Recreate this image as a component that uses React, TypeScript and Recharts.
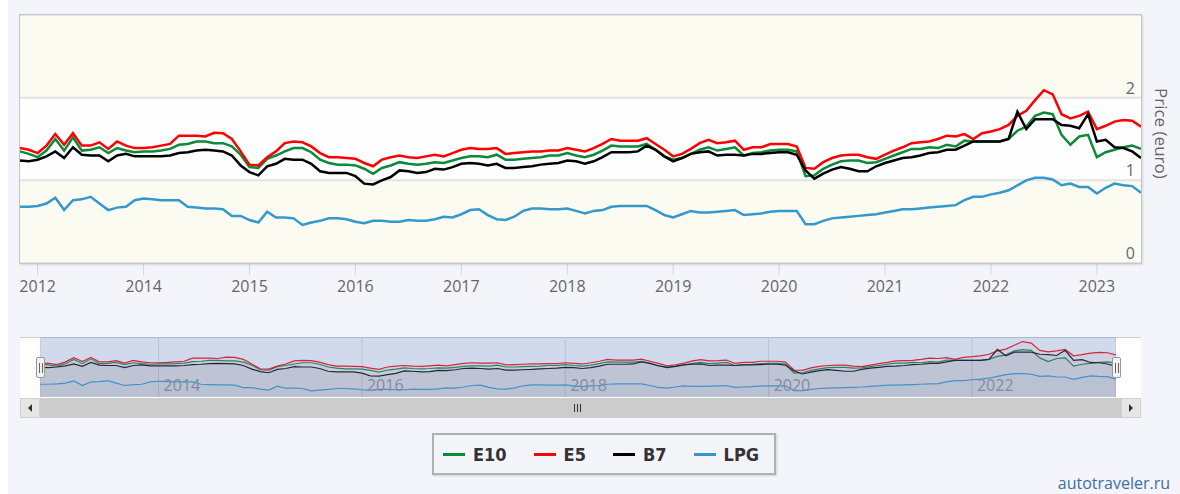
import React from "react";
import { LineChart, Line, ComposedChart, Area, XAxis, YAxis, CartesianGrid } from "recharts";

// ordinal axis: sparse points before 2014, monthly afterwards
const earlyDates = [
  "2011-09", "2011-11", "2012-01", "2012-03", "2012-05", "2012-07", "2012-09",
  "2012-11", "2013-01", "2013-03", "2013-05", "2013-07", "2013-09", "2013-11",
];
const monthlyYears = ["2014", "2015", "2016", "2017", "2018", "2019", "2020", "2021", "2022", "2023"];
const monthNames = ["01", "02", "03", "04", "05", "06", "07", "08", "09", "10", "11", "12"];
const lastDate = "2023-06";

const dates: string[] = [...earlyDates];
monthlyYears.forEach((y) =>
  monthNames.forEach((m) => {
    const d = `${y}-${m}`;
    if (d <= lastDate) dates.push(d);
  })
);

const e10 = [
  1.35, 1.32, 1.28, 1.36, 1.5, 1.36, 1.52, 1.36, 1.37, 1.4, 1.33, 1.39, 1.36, 1.34,
  1.35, 1.35, 1.36, 1.38, 1.43, 1.44, 1.47, 1.47, 1.45, 1.45, 1.41, 1.31,
  1.16, 1.15, 1.26, 1.3, 1.35, 1.39, 1.39, 1.34, 1.25, 1.21, 1.19, 1.19,
  1.18, 1.14, 1.08, 1.15, 1.18, 1.22, 1.2, 1.19, 1.2, 1.22, 1.21, 1.24,
  1.27, 1.29, 1.29, 1.28, 1.31, 1.25, 1.25, 1.26, 1.27, 1.28, 1.3, 1.3,
  1.33, 1.3, 1.28, 1.31, 1.36, 1.42, 1.41, 1.41, 1.41, 1.44, 1.37, 1.29,
  1.25, 1.27, 1.32, 1.37, 1.4, 1.36, 1.38, 1.4, 1.3, 1.33, 1.34, 1.36,
  1.37, 1.37, 1.35, 1.05, 1.06, 1.14, 1.19, 1.23, 1.24, 1.24, 1.21, 1.22,
  1.26, 1.3, 1.34, 1.38, 1.38, 1.4, 1.39, 1.43, 1.41, 1.48, 1.47, 1.47,
  1.47, 1.47, 1.5, 1.6, 1.65, 1.78, 1.82, 1.8, 1.55, 1.43, 1.53, 1.55,
  1.28, 1.34, 1.37, 1.4, 1.42, 1.38,
];
const e5 = [
  1.39, 1.37, 1.33, 1.42, 1.56, 1.43, 1.57, 1.42, 1.42, 1.46, 1.38, 1.47, 1.42, 1.39,
  1.39, 1.4, 1.42, 1.44, 1.54, 1.54, 1.54, 1.53, 1.575, 1.57, 1.5, 1.35,
  1.19, 1.18, 1.28, 1.35, 1.45, 1.47, 1.46, 1.41, 1.33, 1.28, 1.28, 1.27,
  1.26, 1.21, 1.17, 1.25, 1.28, 1.3, 1.28, 1.27, 1.29, 1.31, 1.29, 1.33,
  1.37, 1.39, 1.38, 1.38, 1.39, 1.32, 1.33, 1.34, 1.35, 1.35, 1.36, 1.36,
  1.39, 1.37, 1.35, 1.39, 1.44, 1.5, 1.48, 1.48, 1.48, 1.51, 1.44, 1.37,
  1.29, 1.32, 1.38, 1.45, 1.49, 1.45, 1.46, 1.48, 1.37, 1.4, 1.4, 1.44,
  1.44, 1.44, 1.41, 1.15, 1.14, 1.22, 1.27, 1.3, 1.31, 1.31, 1.28, 1.26,
  1.31, 1.36, 1.4, 1.45, 1.46, 1.47, 1.5, 1.54, 1.53, 1.56, 1.5, 1.57,
  1.59, 1.62, 1.67, 1.78, 1.84, 1.97, 2.09, 2.04, 1.8, 1.75, 1.78, 1.83,
  1.62, 1.66, 1.71, 1.73, 1.72, 1.65,
];
const b7 = [
  1.24, 1.23, 1.25, 1.29, 1.35, 1.27, 1.4, 1.31, 1.3, 1.3, 1.23, 1.3, 1.32, 1.29,
  1.29, 1.29, 1.29, 1.3, 1.33, 1.34, 1.36, 1.37, 1.36, 1.35, 1.3, 1.18,
  1.1, 1.06, 1.17, 1.2, 1.26, 1.25, 1.25, 1.2, 1.11, 1.09, 1.09, 1.09,
  1.05, 0.96, 0.95, 1.0, 1.04, 1.12, 1.11, 1.09, 1.1, 1.14, 1.13, 1.16,
  1.2, 1.21, 1.2, 1.18, 1.2, 1.15, 1.15, 1.16, 1.17, 1.19, 1.2, 1.21,
  1.24, 1.23, 1.2, 1.23, 1.28, 1.34, 1.34, 1.34, 1.35, 1.42, 1.37, 1.29,
  1.23, 1.27, 1.32, 1.34, 1.35, 1.3, 1.31, 1.31, 1.3, 1.32, 1.32, 1.33,
  1.34, 1.34, 1.31, 1.12, 1.02, 1.08, 1.13, 1.16, 1.14, 1.11, 1.11, 1.17,
  1.21, 1.24, 1.27, 1.28, 1.3, 1.33, 1.34, 1.37, 1.37, 1.42, 1.47, 1.47,
  1.47, 1.47, 1.5, 1.83, 1.62, 1.74, 1.74, 1.74, 1.67, 1.66, 1.63, 1.8,
  1.47, 1.49, 1.4, 1.39, 1.35, 1.27,
];
const lpg = [
  0.68, 0.68, 0.69, 0.72, 0.79, 0.64, 0.76, 0.77, 0.8, 0.72, 0.64, 0.67, 0.68, 0.76,
  0.78, 0.77, 0.76, 0.76, 0.76, 0.68, 0.67, 0.66, 0.66, 0.65, 0.57, 0.57,
  0.52, 0.49, 0.62, 0.55, 0.55, 0.54, 0.46, 0.49, 0.51, 0.54, 0.54, 0.53,
  0.5, 0.48, 0.51, 0.51, 0.5, 0.5, 0.52, 0.51, 0.51, 0.53, 0.56, 0.55,
  0.59, 0.64, 0.65, 0.58, 0.53, 0.52, 0.56, 0.63, 0.66, 0.66, 0.65, 0.65,
  0.66, 0.63, 0.6, 0.63, 0.64, 0.68, 0.69, 0.69, 0.69, 0.69, 0.64, 0.58,
  0.55, 0.59, 0.63, 0.61, 0.61, 0.62, 0.63, 0.64, 0.58, 0.59, 0.6, 0.62,
  0.63, 0.63, 0.63, 0.47, 0.47, 0.51, 0.54, 0.55, 0.56, 0.57, 0.58, 0.59,
  0.61, 0.63, 0.65, 0.65, 0.66, 0.67, 0.68, 0.69, 0.7, 0.76, 0.8, 0.8,
  0.83, 0.85, 0.88, 0.94, 1.0, 1.03, 1.03, 1.01, 0.94, 0.96, 0.92, 0.92,
  0.84, 0.91, 0.96, 0.94, 0.93, 0.85,
];

const seriesNames = ["E10", "E5", "B7", "LPG"];
const seriesColors = ["#0b8a3a", "#ff0000", "#000000", "#3399cc"];

const axisYears = ["2012", "2014", "2015", "2016", "2017", "2018", "2019", "2020", "2021", "2022", "2023"];
const navigatorYears = ["2014", "2016", "2018", "2020", "2022"];
const priceTicks = [0, 1, 2, 3];

const rows = dates.map((d, i) => ({
  i,
  date: d,
  E10: e10[i],
  E5: e5[i],
  B7: b7[i],
  LPG: lpg[i],
}));

const mainTicks = axisYears.map((y) => dates.indexOf(`${y}-01`));
const navTicks = navigatorYears.map((y) => dates.indexOf(`${y}-01`));
const yearOf = (v: number) => (dates[v] || "").slice(0, 4);

const FONT = '"Open Sans", "DejaVu Sans", sans-serif';
const NARROW = '"Liberation Sans Narrow", "DejaVu Sans Condensed", "Open Sans", sans-serif';
const PAGE_BG = "#f4f4fb";
const NAV_W = 1076;
const NAV_H = 60;

const PriceTick = (props: any) => {
  const { x, y, payload } = props;
  if (payload.value === 3) return null;
  return (
    <text x={x} y={y - 4} textAnchor="end" fill="#666" fontSize={16}>
      {payload.value}
    </text>
  );
};

const NavTick = (props: any) => {
  const { x, payload } = props;
  return (
    <text x={x + 5} y={NAV_H - 6} fill="#8f8f8f" fontSize={16}>
      {yearOf(payload.value)}
    </text>
  );
};

const Grip = () => (
  <div style={{ display: "flex", gap: 2 }}>
    {[0, 1, 2].map((k) => (
      <div key={k} style={{ width: 1, height: 8, background: "#333" }} />
    ))}
  </div>
);

const Handle = ({ left }: { left: number }) => (
  <div
    style={{
      position: "absolute",
      left,
      top: 357,
      width: 7,
      height: 19,
      background: "#f2f2f2",
      border: "1px solid #999",
      borderRadius: 2,
      display: "flex",
      justifyContent: "center",
      alignItems: "center",
      gap: 2,
    }}
  >
    <div style={{ width: 1, height: 10, background: "#666" }} />
    <div style={{ width: 1, height: 10, background: "#666" }} />
  </div>
);

export default function App() {
  return (
    <div
      style={{
        position: "absolute",
        left: 0,
        top: 0,
        width: 1180,
        height: 494,
        background: PAGE_BG,
        fontFamily: FONT,
        overflow: "hidden",
      }}
    >
      <div style={{ position: "absolute", left: 0, top: 0, width: 8, height: 494, background: "#fff" }} />

      {/* main price chart */}
      <div style={{ position: "absolute", left: 0, top: 0 }}>
        <LineChart width={1180} height={300} data={rows} margin={{ top: 15, right: 39, bottom: 0, left: 20 }}>
          <CartesianGrid
            vertical={false}
            stroke="#e3e3e3"
            strokeWidth={2}
            horizontalFill={["#fbfbf2", "#fefefe", "#fbfbf2"]}
            fillOpacity={1}
          />
          <XAxis
            dataKey="i"
            type="number"
            domain={[0, rows.length - 1]}
            ticks={mainTicks}
            interval={0}
            tickFormatter={yearOf}
            height={37}
            tickSize={12}
            tickMargin={6}
            axisLine={false}
            tickLine={{ stroke: "#ccd6eb" }}
            tick={{ fill: "#666", fontSize: 16 }}
          />
          <YAxis
            orientation="right"
            mirror
            domain={[0, 3]}
            ticks={priceTicks}
            interval={0}
            tickSize={0}
            tickMargin={6}
            axisLine={false}
            tickLine={false}
            tick={<PriceTick />}
          />
          {seriesNames.map((name, k) => (
            <Line
              key={name}
              type="linear"
              dataKey={name}
              stroke={seriesColors[k]}
              strokeWidth={2.5}
              dot={false}
              isAnimationActive={false}
            />
          ))}
        </LineChart>
      </div>

      {/* plot frame */}
      <div
        style={{
          position: "absolute",
          left: 19,
          top: 14,
          width: 1121,
          height: 248,
          border: "1px solid #c6c6c6",
          boxShadow: "1px 1px 2px rgba(0,0,0,0.12)",
          pointerEvents: "none",
        }}
      />

      <div
        style={{
          position: "absolute",
          left: 1150,
          top: 88,
          writingMode: "vertical-rl",
          fontSize: 17,
          color: "#666",
          whiteSpace: "nowrap",
        }}
      >
        Price (euro)
      </div>

      {/* navigator */}
      <div
        style={{
          position: "absolute",
          left: 20,
          top: 337,
          width: 1121,
          height: NAV_H,
          background: "#fff",
          borderTop: "1px solid #cfcfcf",
        }}
      />
      <div style={{ position: "absolute", left: 40, top: 337 }}>
        <ComposedChart width={NAV_W} height={NAV_H} data={rows} margin={{ top: 0, right: 0, bottom: 0, left: 0 }}>
          <CartesianGrid horizontal={false} stroke="#dedede" />
          <XAxis
            dataKey="i"
            type="number"
            domain={[0, rows.length - 1]}
            ticks={navTicks}
            interval={0}
            mirror
            height={20}
            axisLine={false}
            tickLine={false}
            tick={<NavTick />}
          />
          <YAxis hide domain={[0.26, 2.24]} />
          {seriesNames.map((name, k) => (
            <Area
              key={name}
              type="linear"
              dataKey={name}
              stroke={seriesColors[k]}
              strokeWidth={1.2}
              fill={seriesColors[k]}
              fillOpacity={0.05}
              dot={false}
              isAnimationActive={false}
            />
          ))}
        </ComposedChart>
      </div>
      <div
        style={{
          position: "absolute",
          left: 40,
          top: 337,
          width: NAV_W,
          height: NAV_H,
          background: "rgba(102,133,194,0.3)",
          pointerEvents: "none",
        }}
      />
      <Handle left={36} />
      <Handle left={1112} />

      {/* scrollbar */}
      <div style={{ position: "absolute", left: 40, top: 398, width: 1081, height: 20, background: "#cccccc" }} />
      <div
        style={{
          position: "absolute",
          left: 574,
          top: 398,
          height: 20,
          display: "flex",
          alignItems: "center",
        }}
      >
        <Grip />
      </div>
      {[20, 1121].map((left, k) => (
        <div
          key={left}
          style={{
            position: "absolute",
            left,
            top: 398,
            width: 20,
            height: 20,
            boxSizing: "border-box",
            background: "#e6e6e6",
            border: "1px solid #d0d0d0",
            display: "flex",
            alignItems: "center",
            justifyContent: "center",
          }}
        >
          <div
            style={{
              width: 0,
              height: 0,
              borderTop: "4px solid transparent",
              borderBottom: "4px solid transparent",
              borderRight: k === 0 ? "4px solid #333" : undefined,
              borderLeft: k === 1 ? "4px solid #333" : undefined,
            }}
          />
        </div>
      ))}

      {/* legend */}
      <div
        style={{
          position: "absolute",
          left: 432,
          top: 433,
          width: 331,
          height: 38,
          border: "2px solid #b0b0b0",
          boxShadow: "1px 1px 2px rgba(0,0,0,0.15)",
          display: "flex",
          alignItems: "center",
          paddingLeft: 9,
          gap: 27,
          fontFamily: NARROW,
          fontWeight: 700,
          fontSize: 18,
          color: "#333",
        }}
      >
        {seriesNames.map((name, k) => (
          <div key={name} style={{ display: "flex", alignItems: "center", gap: 8 }}>
            <div style={{ width: 22, height: 3, background: seriesColors[k] }} />
            <span>{name}</span>
          </div>
        ))}
      </div>

      <div
        style={{
          position: "absolute",
          right: 10,
          top: 473,
          fontSize: 16,
          lineHeight: "20px",
          color: "#3d6fa5",
          whiteSpace: "nowrap",
        }}
      >
        autotraveler.ru
      </div>
    </div>
  );
}
